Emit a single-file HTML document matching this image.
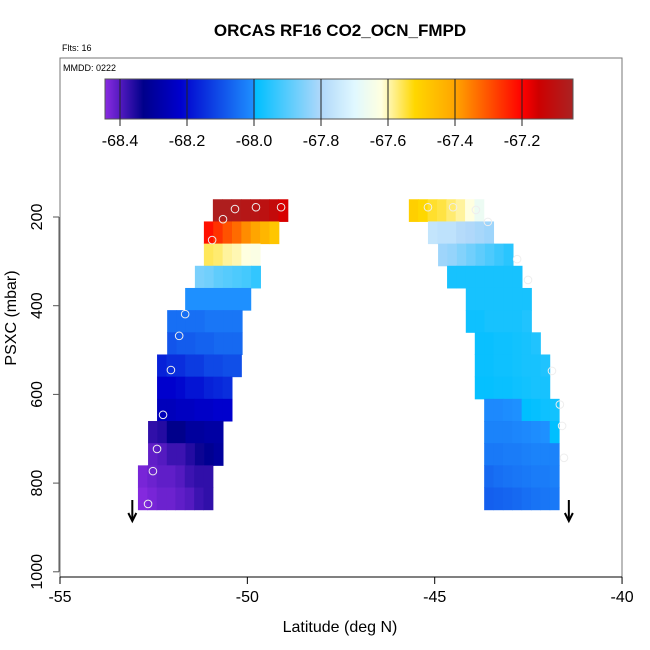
<!DOCTYPE html>
<html><head><meta charset="utf-8"><style>
body{margin:0;background:#fff}
svg{display:block;font-family:"Liberation Sans",sans-serif}
</style></head><body>
<svg id="chart" width="650" height="650" xmlns="http://www.w3.org/2000/svg"></svg>
<script>
// ---- data ----
const rowPressures = [185,235,285,335,385,435,485,535,585,635,685,735,785,835];
const leftStartLat = [-50.92,-51.16,-51.16,-51.40,-51.66,-52.14,-52.14,-52.41,-52.41,-52.41,-52.65,-52.65,-52.92,-52.92];
const leftValues = [
 [-67.06,-67.06,-67.07,-67.08,-67.09,-67.10,-67.12,-67.16],
 [-67.22,-67.26,-67.30,-67.33,-67.37,-67.40,-67.44,-67.48],
 [-67.56,-67.57,-67.59,-67.60,-67.62,-67.63],
 [-67.86,-67.87,-67.89,-67.90,-67.91,-67.92,-67.94],
 [-68.00,-68.00,-68.00,-68.00,-68.00,-68.00,-68.00],
 [-68.05,-68.05,-68.05,-68.05,-68.04,-68.04,-68.04,-68.04],
 [-68.09,-68.08,-68.08,-68.07,-68.07,-68.06,-68.06,-68.06],
 [-68.17,-68.15,-68.15,-68.13,-68.13,-68.11,-68.11,-68.10,-68.10],
 [-68.22,-68.22,-68.21,-68.19,-68.19,-68.17,-68.16,-68.15],
 [-68.25,-68.25,-68.24,-68.24,-68.23,-68.23,-68.22,-68.22],
 [-68.37,-68.36,-68.33,-68.33,-68.30,-68.30,-68.29,-68.29],
 [-68.41,-68.40,-68.38,-68.38,-68.36,-68.34,-68.32,-68.30],
 [-68.43,-68.42,-68.41,-68.41,-68.40,-68.38,-68.37,-68.37],
 [-68.44,-68.43,-68.42,-68.42,-68.41,-68.40,-68.38,-68.37]
];
const rightStartLat = [-45.69,-45.18,-44.91,-44.67,-44.17,-44.17,-43.93,-43.93,-43.93,-43.68,-43.68,-43.68,-43.68,-43.68];
const rightValues = [
 [-67.50,-67.52,-67.54,-67.55,-67.57,-67.59,-67.62,-67.67],
 [-67.76,-67.77,-67.77,-67.79,-67.80,-67.81,-67.82],
 [-67.82,-67.83,-67.85,-67.87,-67.89,-67.91,-67.93,-67.95],
 [-67.97,-67.97,-67.97,-67.97,-67.97,-67.97,-67.97,-67.97],
 [-67.97,-67.97,-67.97,-67.97,-67.97,-67.97,-67.97],
 [-67.98,-67.98,-67.97,-67.97,-67.97,-67.97,-67.96],
 [-67.985,-67.985,-67.98,-67.98,-67.975,-67.97,-67.96],
 [-67.985,-67.985,-67.98,-67.98,-67.975,-67.97,-67.97,-67.96],
 [-67.99,-67.99,-67.985,-67.985,-67.98,-67.975,-67.97,-67.97],
 [-68.01,-68.01,-68.005,-68.0,-67.995,-67.99,-67.98,-67.975],
 [-68.02,-68.02,-68.02,-68.015,-68.01,-68.005,-68.0,-67.995],
 [-68.035,-68.035,-68.03,-68.03,-68.025,-68.02,-68.02,-68.02],
 [-68.06,-68.05,-68.045,-68.04,-68.035,-68.03,-68.03,-68.025],
 [-68.075,-68.07,-68.065,-68.06,-68.05,-68.045,-68.04,-68.035]
];
const circleLat = [-50.33,-49.77,-49.10,-50.65,-50.94,-51.66,-51.82,-52.04,-52.25,-52.41,-52.52,-52.65,-45.18,-44.51,-43.90,-43.58,-42.80,-42.51,-41.87,-41.66,-41.60,-41.55];
const circleP = [182,178,178,205,252,419,468,545,646,723,773,847,178,178,184,211,295,342,547,623,671,743];
const arrowLat = [-53.07,-41.42];
const xTicks = [-55,-50,-45,-40];
const yTicks = [200,400,600,800,1000];
const cbTicks = [-68.4,-68.2,-68.0,-67.8,-67.6,-67.4,-67.2];
const cellWidthDeg = 0.25, rowHeightMbar = 50;

// ---- scales ----
const X = lat => 60 + (lat + 55) * 37.47;
const Y = p => 217 + (p - 200) * 0.4435;
const CB = v => 120 + (v + 68.4) * 335;
const stops = [[-68.445,[138,43,226]],[-68.33,[0,0,139]],[-68.22,[0,0,205]],[-68.0,[30,144,255]],[-67.995,[0,191,255]],[-67.8,[176,216,250]],[-67.7,[224,248,255]],[-67.62,[255,255,224]],[-67.52,[255,215,0]],[-67.4,[255,165,0]],[-67.2,[255,0,0]],[-67.15,[205,0,0]],[-67.048,[170,34,34]]];
function col(v){
  if(v<=stops[0][0]) return 'rgb('+stops[0][1]+')';
  for(let i=1;i<stops.length;i++){ if(v<=stops[i][0]){const a=stops[i-1],b=stops[i];const t=(v-a[0])/(b[0]-a[0]);
    return 'rgb('+a[1].map((c,k)=>Math.round(c+(b[1][k]-c)*t)).join(',')+')';}}
  return 'rgb('+stops[stops.length-1][1]+')';
}
const NS='http://www.w3.org/2000/svg', svg=document.getElementById('chart');
function el(t,a,p){const e=document.createElementNS(NS,t);for(const k in a)e.setAttribute(k,a[k]);(p||svg).appendChild(e);return e;}

// title
let t=el('text',{x:340,y:36,'text-anchor':'middle','font-size':17,'font-weight':'bold'});t.textContent='ORCAS RF16 CO2_OCN_FMPD';


t=el('text',{x:62,y:51,'font-size':9});t.textContent='Flts: 16';


// frame
let fr=el('rect',{x:60,y:58,width:562,height:519,fill:'none',stroke:'#777','stroke-width':1});


t=el('text',{x:63,y:71,'font-size':9});t.textContent='MMDD: 0222';



// heatmap cells
const cells=el('g',{});


function drawSide(starts,vals){
  rowPressures.forEach((p,r)=>{
    vals[r].forEach((v,c)=>{
      const l0=starts[r]+c*cellWidthDeg;
      const x0=X(l0),x1=X(l0+cellWidthDeg),y0=Y(p-rowHeightMbar/2),y1=Y(p+rowHeightMbar/2);
      const e=el('rect',{x:x0,y:y0,width:x1-x0+0.5,height:y1-y0+0.5,fill:col(v)},cells);
      
      
    });
  });
}
drawSide(leftStartLat,leftValues);
drawSide(rightStartLat,rightValues);
circleLat.forEach((la,i)=>{
  const e=el('circle',{cx:X(la),cy:Y(circleP[i]),r:3.8,fill:'none',stroke:'#eee','stroke-width':1});
  
  
});
arrowLat.forEach(la=>{
  const g=el('g',{stroke:'#000','stroke-width':2,fill:'none'});
  
  
  const x=X(la);
  el('line',{x1:x,y1:500,x2:x,y2:521},g);
  el('polyline',{points:(x-4)+',513 '+x+',521 '+(x+4)+',513'},g);
});

// colorbar
const cb=el('g',{});


for(let px=105;px<573;px++){
  const v=-68.4+(px+0.5-120)/335;
  el('rect',{x:px,y:79,width:1.2,height:40,fill:col(v)},cb);
}
el('rect',{x:105,y:79,width:468,height:40,fill:'none',stroke:'#555','stroke-width':1},cb);
cbTicks.forEach(v=>{
  const x=CB(v);
  el('line',{x1:x,y1:79,x2:x,y2:126,stroke:'#222','stroke-width':1},cb);
  const tx=el('text',{x:x,y:146,'text-anchor':'middle','font-size':16},cb);tx.textContent=v.toFixed(1);
  
  
});

// axes
const ax=el('g',{stroke:'#000','stroke-width':1});


el('line',{x1:X(-55),y1:577,x2:X(-40),y2:577},ax);
xTicks.forEach(v=>{
  el('line',{x1:X(v),y1:577,x2:X(v),y2:584},ax);
  const tx=el('text',{x:X(v),y:602,'text-anchor':'middle','font-size':16,stroke:'none'});tx.textContent=v;
  
  
});
const ay=el('g',{stroke:'#555','stroke-width':1});


el('line',{x1:59,y1:Y(200),x2:59,y2:Y(1000)},ay);
yTicks.forEach(v=>{
  el('line',{x1:53,y1:Y(v),x2:59,y2:Y(v)},ay);
  const tx=el('text',{x:0,y:0,'text-anchor':'middle','font-size':16,transform:'translate(42,'+Y(v)+') rotate(-90)'});tx.textContent=v;
  
  
});
t=el('text',{x:340,y:632,'text-anchor':'middle','font-size':16});t.textContent='Latitude (deg N)';


t=el('text',{x:0,y:0,'text-anchor':'middle','font-size':16,transform:'translate(16,318) rotate(-90)'});t.textContent='PSXC (mbar)';


</script>
</body></html>
